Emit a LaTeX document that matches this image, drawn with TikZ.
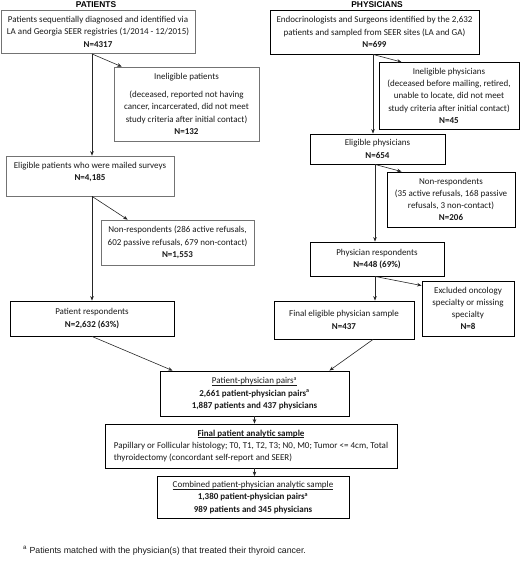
\documentclass[tikz,border=0pt]{standalone}
\usepackage{fontspec}
\setmainfont{Carlito}
\newfontfamily\arialf{Liberation Sans}
\usetikzlibrary{arrows.meta,calc}
\newcommand\ulx[1]{\setbox0\hbox{#1}\rlap{\rule[-1.4pt]{\wd0}{0.45pt}}\box0}
\begin{document}
\begin{tikzpicture}[x=1pt,y=-1pt,
  box/.style={draw=black,line width=0.9pt,align=center,inner sep=1pt,
    font=\fontsize{9}{12.2}\selectfont,text=black!90},
  gbox/.style={box,draw=black!55,line width=0.7pt},
  arr/.style={-{Stealth[length=4.5pt,width=3.6pt]},line width=0.6pt,draw=black!85},
  ttl/.style={font=\arialf\bfseries\fontsize{8.4}{9}\selectfont,inner sep=0pt},
]
\useasboundingbox (0,0) rectangle (520,561);

% titles
\node[ttl] (tp) at (96,5) {PATIENTS};
\node[ttl] (tph) at (377,5) {PHYSICIANS};

% patients column
\node[gbox,minimum width=194pt,minimum height=43.6pt] (p1) at (98,31.8)
  {Patients sequentially diagnosed and identified via\\
   LA and Georgia SEER registries (1/2014 - 12/2015)\\ \textbf{N=4317}};
\node[gbox,minimum width=145pt,minimum height=74pt] (inelp) at (186.5,104)
  {Ineligible patients\\[5.5pt]
   (deceased, reported not having\\ cancer, incarcerated, did not meet\\
   study criteria after initial contact)\\ \textbf{N=132}};
\node[gbox,minimum width=168pt,minimum height=40pt,text depth=9pt] (p2) at (90,176)
  {Eligible patients who were mailed surveys\\ \textbf{N=4,185}};
\node[gbox,minimum width=153pt,minimum height=45pt] (nrp) at (177.5,242.5)
  {Non-respondents (286 active refusals,\\ 602 passive refusals, 679 non-contact)\\ \textbf{N=1,553}};
\node[box,minimum width=164pt,minimum height=35pt] (p3) at (92,318.5)
  {Patient respondents\\ \textbf{N=2,632 (63\%)}};

% physicians column
\node[box,minimum width=209pt,minimum height=44pt] (ph1) at (374.5,32)
  {Endocrinologists and Surgeons identified by the 2,632\\
   patients and sampled from SEER sites (LA and GA)\\ \textbf{N=699}};
\node[box,minimum width=140pt,minimum height=66.5pt] (inelph) at (449,95.75)
  {Ineligible physicians\\ (deceased before mailing, retired,\\ unable to locate, did not meet\\
   study criteria after initial contact)\\ \textbf{N=45}};
\node[box,minimum width=135pt,minimum height=30pt] (elig) at (377.5,149)
  {Eligible physicians\\ \textbf{N=654}};
\node[box,minimum width=128pt,minimum height=55pt] (nrph) at (451,199.5)
  {Non-respondents\\ (35 active refusals, 168 passive\\ refusals, 3 non-contact)\\ \textbf{N=206}};
\node[box,minimum width=134pt,minimum height=34pt] (phresp) at (377,259)
  {Physician respondents\\ \textbf{N=448 (69\%)}};
\node[box,minimum width=92pt,minimum height=55pt] (excl) at (468,308.5)
  {Excluded oncology\\ specialty or missing\\ specialty\\ \textbf{N=8}};
\node[box,minimum width=140pt,minimum height=38pt] (felig) at (344,320)
  {Final eligible physician sample\\ \textbf{N=437}};

% combined
\node[box,minimum width=189pt,minimum height=45pt] (pairs) at (254.5,393.5)
  {\ulx{Patient-physician pairs\textsuperscript{a}}\\
   \textbf{2,661 patient-physician pairs\textsuperscript{a}}\\
   \textbf{1,887 patients and 437 physicians}};
\node[box,minimum width=292pt,minimum height=44pt] (final) at (251,446)
  {\begin{tabular}{@{}l@{}}
   \multicolumn{1}{@{}c@{}}{\ulx{\textbf{Final patient analytic sample}}}\\
   Papillary or Follicular histology; T0, T1, T2, T3; N0, M0; Tumor <= 4cm, Total\\
   thyroidectomy (concordant self-report and SEER)
   \end{tabular}};
\node[box,minimum width=192pt,minimum height=42pt] (comb) at (253,497.5)
  {\ulx{Combined patient-physician analytic sample}\\
   \textbf{1,380 patient-physician pairs\textsuperscript{a}}\\
   \textbf{989 patients and 345 physicians}};

% footnote
\node[anchor=west,inner sep=0pt,font=\arialf\fontsize{8.8}{10}\selectfont,text=black!90] (fn) at (23,551)
  {\textsuperscript{a} Patients matched with the physician(s) that treated their thyroid cancer.};

% connectors: patients
\draw[arr] (p1.south -| p3.north) -- (p2.north -| p3.north);
\draw[arr] (p1.south -| p3.north) -- ($(inelp.north west)+(8,0)$);
\draw[arr] (p2.south -| p3.north) -- (p3.north);
\draw[arr] (p2.south -| p3.north) -- ($(nrp.north west)+(27,0)$);
\draw[arr] (p3.south) -- ($(pairs.north west)+(13,0)$);

% connectors: physicians
\coordinate (c1) at ($(ph1.south)+(-1.5,0)$);
\draw[arr] (c1) -- (c1 |- elig.north);
\draw[arr] (c1) -- ($(inelph.north west)+(23,0)$);
\coordinate (c2) at ($(elig.south)+(-2.5,0)$);
\draw[arr] (c2) -- (c2 |- phresp.north);
\draw[arr] (c2) -- ($(nrph.north west)+(15,0)$);
\coordinate (c3) at ($(phresp.south)+(-2,0)$);
\draw[arr] (c3) -- (c3 |- felig.north);
\draw[arr] (c3) -- ($(excl.north west)+(0,5)$);
\draw[arr] ($(felig.south)+(29,0)$) -- ($(pairs.north east)+(-20,0)$);

% connectors: bottom
\draw[arr] (pairs.south) -- (pairs.south |- final.north);
\draw[arr] (final.south -| pairs.south) -- (comb.north -| pairs.south);
\end{tikzpicture}
\end{document}
